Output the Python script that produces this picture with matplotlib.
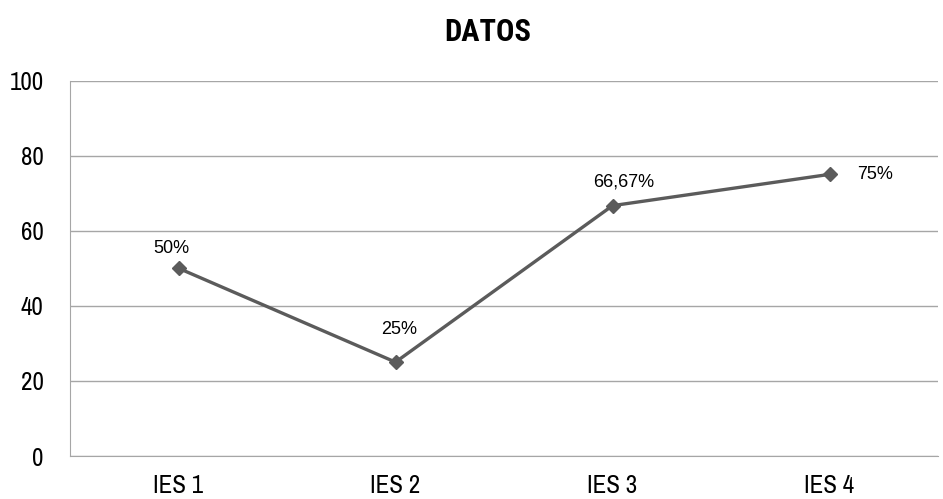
import matplotlib
matplotlib.use('Agg')
import matplotlib.pyplot as plt

# Datos
categorias = ['IES 1', 'IES 2', 'IES 3', 'IES 4']
valores = [50, 25, 66.67, 75]
etiquetas = ['50%', '25%', '66,67%', '75%']
y_ticks = [0, 20, 40, 60, 80, 100]

narrow = 'Archivo Narrow'

fig = plt.figure(figsize=(9.43, 4.99), dpi=100)
ax = fig.add_axes([70 / 943, 1 - 456 / 499, 868 / 943, 375.5 / 499])

x = range(len(categorias))
ax.plot(x, valores, color='#5b5b5b', linewidth=2.4, marker='D', markersize=7.5,
        markeredgecolor='#5b5b5b', markerfacecolor='#5b5b5b', zorder=3)

# etiquetas de datos (desplazamiento en pixeles)
desplaz = [(-7, 20), (4, 33), (11, 24), (46, 0)]
for i, (v, t) in enumerate(zip(valores, etiquetas)):
    ax.annotate(t, (i, v), xytext=desplaz[i], textcoords='offset pixels',
                ha='center', va='center', fontsize=13,
                family='Liberation Sans', color='#000000')

ax.set_xlim(-0.5, len(categorias) - 0.5)
ax.set_ylim(0, 100)
ax.set_yticks(y_ticks)
ax.set_xticks(list(x))
ax.set_xticklabels(categorias)
ax.grid(axis='y', color='#a6a6a6', linewidth=1)
ax.set_axisbelow(True)

for lado in ['top', 'right']:
    ax.spines[lado].set_visible(False)
ax.spines['left'].set_color('#a6a6a6')
ax.spines['bottom'].set_color('#a6a6a6')
ax.tick_params(axis='both', length=0, labelsize=18)
ax.tick_params(axis='y', pad=19)
ax.tick_params(axis='x', pad=13)
for lbl in ax.get_xticklabels() + ax.get_yticklabels():
    lbl.set_family(narrow)

fig.text(488 / 943, 1 - 32 / 499, 'DATOS', ha='center', va='center',
         fontsize=22, fontweight='bold', family='Roboto Condensed')

plt.savefig('out.png', dpi=100)
